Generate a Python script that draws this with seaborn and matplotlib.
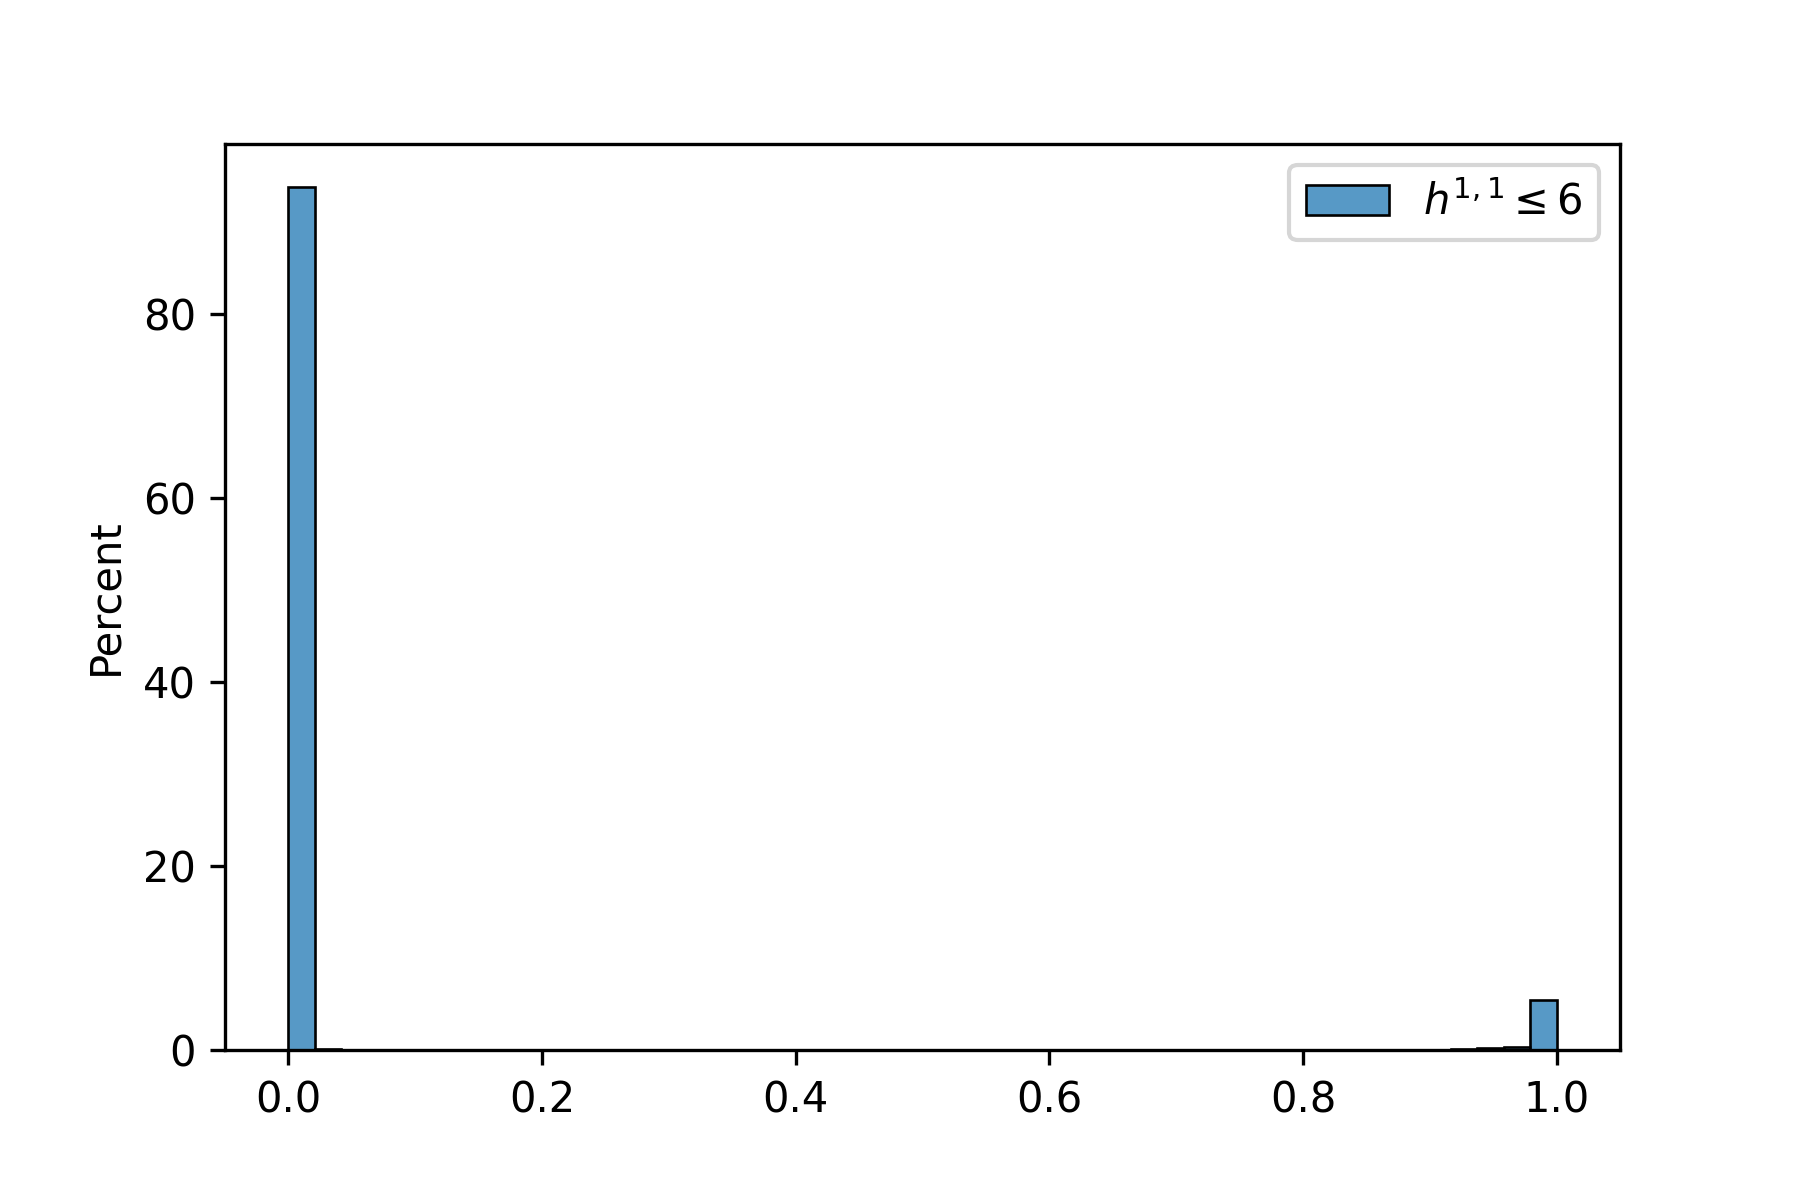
import numpy as np
import matplotlib
matplotlib.use("Agg")
import matplotlib.pyplot as plt
import seaborn as sns

# histogram bins (48 equal bins over [0, 1]) and their share in percent
N_BINS = 48
bin_index = [0, 1, 44, 45, 46, 47]
bin_percent = [93.8, 0.1, 0.1, 0.25, 0.3, 5.45]
label = r"$h^{1,1} \leq 6$"


def main():
    width = 1.0 / N_BINS
    centers = [(i + 0.5) * width for i in bin_index]

    fig, ax = plt.subplots(figsize=(6, 4))
    fig.subplots_adjust(bottom=0.125)
    sns.histplot(
        x=centers,
        weights=bin_percent,
        bins=N_BINS,
        binrange=(0, 1),
        stat="percent",
        label=label,
        ax=ax,
    )
    ax.set_ylabel("Percent")
    ax.legend(loc="upper right")
    fig.savefig("out.png", dpi=300)
    plt.close(fig)


if __name__ == "__main__":
    main()
